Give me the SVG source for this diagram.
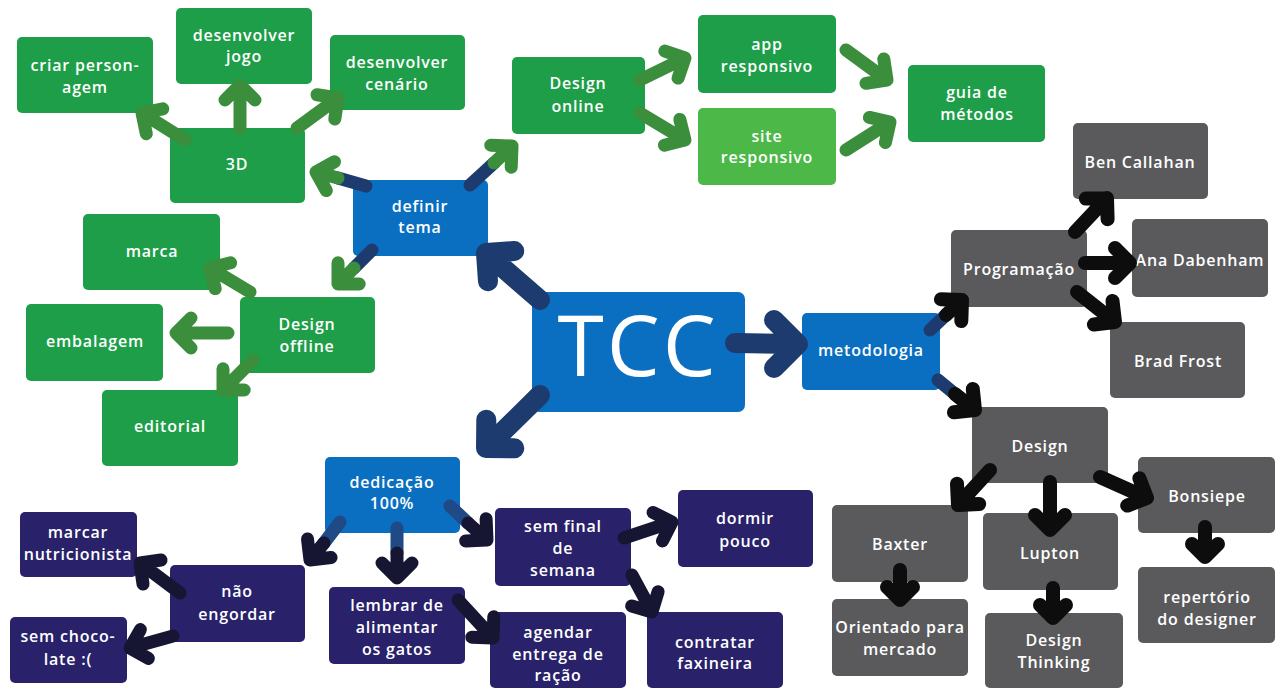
<svg xmlns="http://www.w3.org/2000/svg" width="1280" height="688" viewBox="0 0 1280 688">
<defs>
<style>
.g rect{fill:#1e9e48}
.gl rect{fill:#4cb847}
.b rect{fill:#0a6fc0}
.y rect{fill:#5a5a5c}
.n rect{fill:#29216a}
text{font-family:"Open Sans","Liberation Sans",sans-serif;font-weight:600;font-size:16px;fill:#ffffff;text-anchor:middle;letter-spacing:0.8px}
.big{font-size:84px;font-weight:500;letter-spacing:3px}
path{fill:none;stroke-linecap:round;stroke-linejoin:round}
.ag{stroke:#3a8e3c;stroke-width:13}
.an{stroke:#1d3b6e;stroke-width:13}
.am{stroke:#1d3b6e;stroke-width:20}
.ak{stroke:#0d0d0d;stroke-width:14}
.ad{stroke:#161633;stroke-width:13}
.ab{stroke:#1f4a86;stroke-width:13}
</style>
</defs>
<rect width="1280" height="688" fill="#ffffff"/>
<g id="nodes">
<g id="n-criar" class="g"><rect x="17" y="37" width="136" height="76" rx="5"/><text x="85" y="71">criar person-</text><text x="85" y="93">agem</text></g>
<g id="n-jogo" class="g"><rect x="176" y="8" width="136" height="76" rx="5"/><text x="244" y="41">desenvolver</text><text x="244" y="62">jogo</text></g>
<g id="n-cenario" class="g"><rect x="330" y="35" width="135" height="75" rx="5"/><text x="397" y="68">desenvolver</text><text x="397" y="90">cenário</text></g>
<g id="n-3d" class="g"><rect x="170" y="128" width="135" height="75" rx="5"/><text x="237" y="170">3D</text></g>
<g id="n-online" class="g"><rect x="512" y="57" width="133" height="77" rx="5"/><text x="578" y="89">Design</text><text x="578" y="112">online</text></g>
<g id="n-app" class="g"><rect x="698" y="15" width="138" height="78" rx="5"/><text x="767" y="50">app</text><text x="767" y="72">responsivo</text></g>
<g id="n-site" class="gl"><rect x="698" y="108" width="138" height="77" rx="5"/><text x="767" y="142">site</text><text x="767" y="163">responsivo</text></g>
<g id="n-guia" class="g"><rect x="908" y="65" width="137" height="77" rx="5"/><text x="977" y="98">guia de</text><text x="977" y="120">métodos</text></g>
<g id="n-marca" class="g"><rect x="83" y="214" width="137" height="76" rx="5"/><text x="152" y="257">marca</text></g>
<g id="n-offline" class="g"><rect x="240" y="297" width="135" height="76" rx="5"/><text x="307" y="330">Design</text><text x="307" y="352">offline</text></g>
<g id="n-embalagem" class="g"><rect x="26" y="304" width="137" height="77" rx="5"/><text x="95" y="347">embalagem</text></g>
<g id="n-editorial" class="g"><rect x="102" y="390" width="136" height="76" rx="5"/><text x="170" y="432">editorial</text></g>
<g id="n-definir" class="b"><rect x="353" y="180" width="135" height="76" rx="5"/><text x="420" y="212">definir</text><text x="420" y="233">tema</text></g>
<g id="n-tcc" class="b"><rect x="532" y="292" width="213" height="120" rx="7"/><text class="big" x="638" y="376">TCC</text></g>
<g id="n-metodologia" class="b"><rect x="802" y="313" width="138" height="77" rx="5"/><text x="871" y="356">metodologia</text></g>
<g id="n-dedicacao" class="b"><rect x="325" y="457" width="135" height="76" rx="5"/><text x="392" y="488">dedicação</text><text x="392" y="509">100%</text></g>
<g id="n-ben" class="y"><rect x="1073" y="123" width="135" height="76" rx="5"/><text x="1140" y="168">Ben Callahan</text></g>
<g id="n-prog" class="y"><rect x="951" y="230" width="136" height="77" rx="5"/><text x="1019" y="275">Programação</text></g>
<g id="n-ana" class="y"><rect x="1132" y="219" width="136" height="78" rx="5"/><text x="1200" y="266">Ana Dabenham</text></g>
<g id="n-brad" class="y"><rect x="1110" y="322" width="135" height="76" rx="5"/><text x="1178" y="367">Brad Frost</text></g>
<g id="n-design" class="y"><rect x="972" y="407" width="136" height="76" rx="5"/><text x="1040" y="452">Design</text></g>
<g id="n-bonsiepe" class="y"><rect x="1138" y="457" width="137" height="76" rx="5"/><text x="1207" y="502">Bonsiepe</text></g>
<g id="n-baxter" class="y"><rect x="832" y="505" width="136" height="77" rx="5"/><text x="900" y="550">Baxter</text></g>
<g id="n-lupton" class="y"><rect x="983" y="513" width="135" height="77" rx="5"/><text x="1050" y="559">Lupton</text></g>
<g id="n-orientado" class="y"><rect x="832" y="599" width="136" height="77" rx="5"/><text x="900" y="633">Orientado para</text><text x="900" y="655">mercado</text></g>
<g id="n-thinking" class="y"><rect x="985" y="613" width="138" height="75" rx="5"/><text x="1054" y="646">Design</text><text x="1054" y="668">Thinking</text></g>
<g id="n-repertorio" class="y"><rect x="1138" y="567" width="137" height="76" rx="5"/><text x="1207" y="603">repertório</text><text x="1207" y="625">do designer</text></g>
<g id="n-marcar" class="n"><rect x="20" y="512" width="117" height="65" rx="5"/><text x="78" y="538">marcar</text><text x="78" y="560">nutricionista</text></g>
<g id="n-nao" class="n"><rect x="170" y="565" width="135" height="77" rx="5"/><text x="237" y="597">não</text><text x="237" y="620">engordar</text></g>
<g id="n-choco" class="n"><rect x="10" y="617" width="117" height="66" rx="5"/><text x="68" y="642">sem choco-</text><text x="68" y="665">late :(</text></g>
<g id="n-lembrar" class="n"><rect x="329" y="587" width="136" height="77" rx="5"/><text x="397" y="611">lembrar de</text><text x="397" y="633">alimentar</text><text x="397" y="655">os gatos</text></g>
<g id="n-semfinal" class="n"><rect x="495" y="508" width="136" height="78" rx="5"/><text x="563" y="532">sem final</text><text x="563" y="554">de</text><text x="563" y="576">semana</text></g>
<g id="n-dormir" class="n"><rect x="678" y="490" width="135" height="77" rx="5"/><text x="745" y="524">dormir</text><text x="745" y="547">pouco</text></g>
<g id="n-agendar" class="n"><rect x="490" y="612" width="136" height="76" rx="5"/><text x="558" y="638">agendar</text><text x="558" y="660">entrega de</text><text x="558" y="681">ração</text></g>
<g id="n-contratar" class="n"><rect x="647" y="612" width="136" height="76" rx="5"/><text x="715" y="648">contratar</text><text x="715" y="669">faxineira</text></g>
</g>
<g id="connectors">
<path class="ag" d="M185 140 L142 113 M162.8 108.8 L142 113 L146.3 133.8"/>
<path class="ag" d="M240 128 L240 85 M225 100 L240 85 L255 100"/>
<path class="ag" d="M297 128 L338 98 M317 94.8 L338 98 L334.8 119"/>
<path class="an" d="M366 186 L338 178"/>
<path class="ag" d="M338 178 L316 172 M334.5 161.7 L316 172 L326.3 190.5"/>
<path class="an" d="M470 185 L494 163"/>
<path class="ag" d="M494 163 L512 146 M490.8 145.2 L512 146 L511.2 167.2"/>
<path class="an" d="M372 250 L354 268"/>
<path class="ag" d="M354 268 L338 284 M338 262.8 L338 284 L359.2 284"/>
<path class="ag" d="M250 292 L210 268 M230.6 262.8 L210 268 L215.2 288.6"/>
<path class="ag" d="M228 333 L176 333 M191 318 L176 333 L191 348"/>
<path class="ag" d="M253 360 L223 390 M223 368.8 L223 390 L244.2 390"/>
<path class="ag" d="M640 80 L685 58 M664.9 51.1 L685 58 L678.1 78.1"/>
<path class="ag" d="M640 113 L685 140 M679.8 119.4 L685 140 L664.4 145.2"/>
<path class="ag" d="M846 50 L887 80 M883.8 59 L887 80 L866 83.3"/>
<path class="ag" d="M846 150 L890 122 M869.4 117.4 L890 122 L885.4 142.6"/>
<path class="am" d="M540 300 L486 253 M514.2 251 L486 253 L488 281.2"/>
<path class="am" d="M540 395 L486 448 M486.3 419.7 L486 448 L514.3 448.3"/>
<path class="am" d="M735 343 L798 344 M774 320 L798 344 L774 368"/>
<path class="an" d="M930 330 L946 315"/>
<path class="ak" d="M946 315 L962 300 M940.9 299.3 L962 300 L961.3 321.1"/>
<path class="an" d="M938 380 L955 394"/>
<path class="ak" d="M955 394 L975 410 M972.8 388.9 L975 410 L953.9 412.3"/>
<path class="ak" d="M1075 232 L1107 198 M1085.8 198.6 L1107 198 L1107.6 219.2"/>
<path class="ak" d="M1085 263 L1130 263 M1115 248 L1130 263 L1115 278"/>
<path class="ak" d="M1077 292 L1115 322 M1112.5 300.9 L1115 322 L1093.9 324.5"/>
<path class="ak" d="M990 470 L958 505 M957 483.8 L958 505 L979.2 504"/>
<path class="ak" d="M1050 482 L1050 530 M1035 515 L1050 530 L1065 515"/>
<path class="ak" d="M1100 477 L1147 498 M1139.4 478.2 L1147 498 L1127.2 505.6"/>
<path class="ak" d="M900 570 L900 600 M887 587 L900 600 L913 587"/>
<path class="ak" d="M1053 588 L1053 618 M1040 605 L1053 618 L1066 605"/>
<path class="ak" d="M1205 527 L1205 557 M1192 544 L1205 557 L1218 544"/>
<path class="ab" d="M340 522 L324 543"/>
<path class="ad" d="M324 543 L310 560 M307.5 538.9 L310 560 L331.1 557.5"/>
<path class="ab" d="M397 528 L397 553"/>
<path class="ad" d="M397 553 L397 578 M382 563 L397 578 L412 563"/>
<path class="ab" d="M450 506 L468 523"/>
<path class="ad" d="M468 523 L487 540 M465.7 540.9 L487 540 L486.1 518.7"/>
<path class="ad" d="M180 593 L140 563 M161 560 L140 563 L143 584"/>
<path class="ad" d="M173 636 L130 648 M140.4 629.6 L130 648 L148.4 658.4"/>
<path class="ad" d="M458 600 L493 638 M493.8 616.8 L493 638 L471.8 637.2"/>
<path class="ad" d="M624 538 L672 522 M653.1 512.5 L672 522 L662.5 540.9"/>
<path class="ad" d="M632 575 L652 612 M658.1 591.7 L652 612 L631.7 605.9"/>
</g>
</svg>
